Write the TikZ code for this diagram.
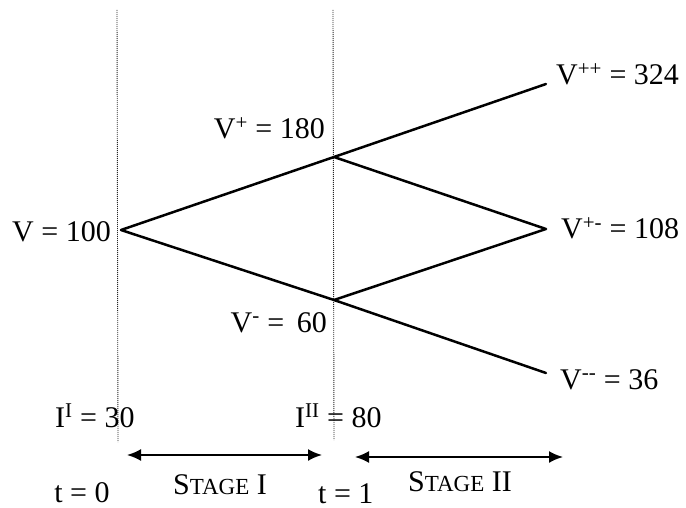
\documentclass[tikz,border=0pt]{standalone}
\usepackage{fontspec}
\setmainfont{Liberation Serif}
\usetikzlibrary{arrows.meta}
\newcommand{\smc}[1]{{\fontsize{23}{26}\selectfont #1}}
\begin{document}
\begin{tikzpicture}[x=1pt,y=-1pt,
  lbl/.style={inner sep=0pt,font=\fontsize{30}{34}\selectfont},
  branch/.style={line width=2.5pt},
  guide/.style={line width=0.9pt,dash pattern=on 0.9pt off 1.1pt,black!85},
  span/.style={line width=2pt,{Latex[length=14pt,width=12pt]}-{Latex[length=14pt,width=12pt]}}]
\useasboundingbox (0,0) rectangle (686,508);
% guides
\coordinate (g1t) at (117,10); \coordinate (g1b) at (118,442);
\coordinate (g2t) at (333,10); \coordinate (g2b) at (334,440);
\draw[guide] (g1t) -- (g1b);
\draw[guide] (g2t) -- (g2b);
% tree points
\coordinate (A) at (121,230);
\coordinate (B) at (334,157);
\coordinate (C) at (334,300);
\coordinate (UU) at (546,84);
\coordinate (UD) at (546,229);
\coordinate (DD) at (546,373);
\draw[branch,line cap=round,line join=round] (A) -- (B) -- (UU);
\draw[branch,line cap=round,line join=round] (A) -- (C) -- (DD);
\draw[branch,line cap=round,line join=round] (B) -- (UD) -- (C);
% labels
\node[lbl,anchor=base east] (lA) at (111,241) {V = 100};
\node[lbl,anchor=base east] (lB) at (325,139) {V\textsuperscript{+} = 180};
\node[lbl,anchor=base east] (lC) at (327,332) {V\textsuperscript{-} =\, 60};
\node[lbl,anchor=base west] (lUU) at (556,85) {V\textsuperscript{++} = 324};
\node[lbl,anchor=base west] (lUD) at (561,239) {V\textsuperscript{+-} = 108};
\node[lbl,anchor=base west] (lDD) at (560,389) {V\textsuperscript{-{}-} = 36};
\node[lbl,anchor=base west] (lI1) at (55,427) {I\textsuperscript{I} = 30};
\node[lbl,anchor=base west] (lI2) at (295,427) {I\textsuperscript{II} = 80};
% stage arrows
\coordinate (s1a) at (127,455); \coordinate (s1b) at (322,455);
\coordinate (s2a) at (355,457); \coordinate (s2b) at (563,457);
\draw[span] (s1a) -- (s1b);
\draw[span] (s2a) -- (s2b);
\node[lbl,anchor=base] (st1) at (220,494) {S\smc{TAGE} I};
\node[lbl,anchor=base] (st2) at (460,491) {S\smc{TAGE} II};
\node[lbl,anchor=base] (t0) at (82,502) {t = 0};
\node[lbl,anchor=base west] (t1) at (318,503) {t = 1};
\end{tikzpicture}
\end{document}
